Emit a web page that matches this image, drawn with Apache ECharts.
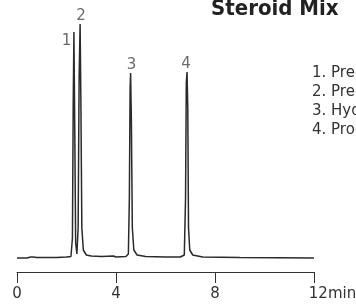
<!DOCTYPE html>
<html>
<head>
<meta charset="utf-8">
<script src="https://cdn.jsdelivr.net/npm/echarts@6/dist/echarts.min.js"></script>
<style>
  html, body { margin: 0; padding: 0; background: #fff; }
  #main { width: 356px; height: 304px; }
</style>
</head>
<body>
<div id="main"></div>
<script>
// retention time (min) and detector signal
var times = [0.00, 0.40, 0.55, 0.60, 0.65, 0.80, 1.20, 1.60, 2.00, 2.18,
  2.24, 2.27, 2.30, 2.33, 2.37, 2.42, 2.47, 2.51, 2.55, 2.58,
  2.62, 2.68, 2.80, 3.00, 3.40, 3.90, 4.00, 4.40, 4.50, 4.54,
  4.57, 4.59, 4.62, 4.66, 4.72, 4.85, 5.20, 6.00, 6.60, 6.76,
  6.81, 6.84, 6.87, 6.90, 6.93, 6.98, 7.10, 7.50, 9.00, 12.00];
var signal = [0, 0, 1, 2, 1, 0.5, 0.5, 0.5, 1, 1.5,
  20, 150, 226, 140, 15, 4, 30, 180, 234, 160,
  30, 8, 3, 2, 1.5, 2, 1, 1.5, 4, 60,
  170, 185, 140, 30, 8, 3, 1.5, 1, 1, 3,
  60, 175, 186, 150, 30, 8, 3, 1, 0.5, 0];

var peakNames = ['1', '2', '3', '4'];
var peakLabelPos = [[2.0, 217], [2.59, 242], [4.63, 193], [6.83, 194]];
var compounds = ['1. Prednisone', '2. Prednisolone', '3. Hydrocortisone', '4. Progesterone'];
var xTicks = [0, 4, 8, 12];

var trace = times.map(function (t, i) { return [t, signal[i]]; });
var labelPts = peakLabelPos.map(function (p, i) { return { value: p, name: peakNames[i] }; });

var myChart = echarts.init(document.getElementById('main'));
myChart.setOption({
  animation: false,
  title: {
    text: 'Steroid Mix',
    left: 206, top: -7,
    textStyle: { fontFamily: 'DejaVu Sans Condensed', fontWeight: 'bold', fontSize: 22, color: '#222' }
  },
  grid: { left: 17, right: 42, top: 8, bottom: 32, outerBoundsMode: 'none', containLabel: false },
  xAxis: {
    type: 'value', min: 0, max: 12, interval: 4,
    position: 'bottom',
    axisLine: { show: true, onZero: false, lineStyle: { color: '#333', width: 1 } },
    axisTick: { show: true, inside: false, length: 11, lineStyle: { color: '#333' } },
    splitLine: { show: false },
    axisLabel: {
      margin: 15,
      color: '#333',
      fontFamily: 'DejaVu Sans',
      fontSize: 15,
      formatter: function (v) {
        return v === xTicks[xTicks.length - 1] ? '{p| }' + v + 'min' : String(v);
      },
      rich: { p: { width: 37 } }
    }
  },
  yAxis: { type: 'value', min: -14, max: 250, show: false },
  graphic: compounds.map(function (c, i) {
    return {
      type: 'text', left: 312, top: 66 + i * 19,
      style: { text: c, font: '15px "DejaVu Sans"', fill: '#333' }
    };
  }),
  series: [{
    type: 'line',
    data: trace,
    symbol: 'none',
    lineStyle: { color: '#2a2a2a', width: 1.5 }
  }, {
    type: 'scatter',
    data: labelPts,
    symbolSize: 0,
    label: {
      show: true, position: 'inside', formatter: '{b}',
      fontFamily: 'DejaVu Sans', fontSize: 15, color: '#444'
    }
  }]
});
</script>
</body>
</html>
